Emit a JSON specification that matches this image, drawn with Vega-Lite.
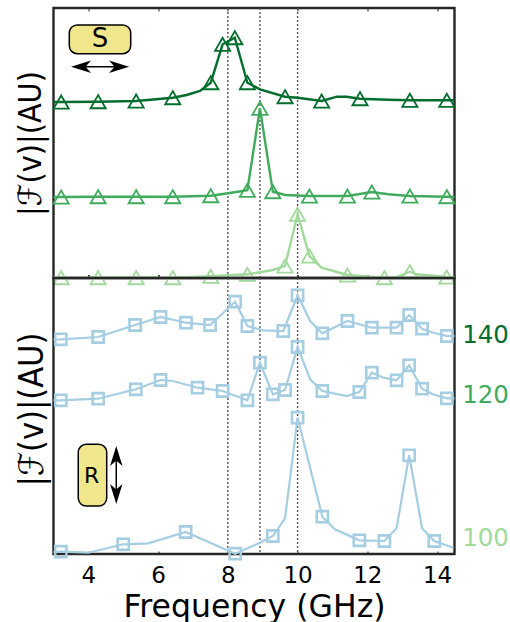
{"$schema":"https://vega.github.io/schema/vega-lite/v6.json","background":"white","padding":{"left":12.5,"top":6,"right":0,"bottom":2},"spacing":0,"bounds":"flush","config":{"font":"DejaVu Sans","view":{"stroke":"#262626","strokeWidth":2.4},"concat":{"spacing":0}},
"datasets":{"top":[
{"s":"140","f":3.0,"a":176,"m":false},{"s":"140","f":3.22,"a":176,"m":true},{"s":"140","f":4.28,"a":176.3,"m":true},{"s":"140","f":5.37,"a":177,"m":true},{"s":"140","f":6.42,"a":180.3,"m":true},{"s":"140","f":6.82,"a":183,"m":false},{"s":"140","f":7.2,"a":187,"m":false},{"s":"140","f":7.51,"a":195.3,"m":true},{"s":"140","f":7.85,"a":233.7,"m":true},{"s":"140","f":8.2,"a":240.3,"m":true},{"s":"140","f":8.56,"a":195.3,"m":true},{"s":"140","f":8.92,"a":188.7,"m":false},{"s":"140","f":9.64,"a":181.3,"m":true},{"s":"140","f":10,"a":180.3,"m":false},{"s":"140","f":10.69,"a":177,"m":true},{"s":"140","f":11.13,"a":181.3,"m":false},{"s":"140","f":11.4,"a":181.3,"m":false},{"s":"140","f":11.79,"a":179.3,"m":true},{"s":"140","f":12.6,"a":178.3,"m":false},{"s":"140","f":13.22,"a":177.7,"m":true},{"s":"140","f":14.28,"a":177.7,"m":true},{"s":"140","f":14.5,"a":177.7,"m":false},
{"s":"120","f":3.0,"a":81,"m":false},{"s":"120","f":3.22,"a":81,"m":true},{"s":"120","f":4.28,"a":81.3,"m":true},{"s":"120","f":5.37,"a":81.3,"m":true},{"s":"120","f":6.42,"a":81.3,"m":true},{"s":"120","f":7.51,"a":82.3,"m":true},{"s":"120","f":8.1,"a":85.3,"m":false},{"s":"120","f":8.56,"a":87.7,"m":true},{"s":"120","f":8.92,"a":169.7,"m":true},{"s":"120","f":9.29,"a":86.3,"m":true},{"s":"120","f":9.65,"a":83,"m":false},{"s":"120","f":10.34,"a":82,"m":true},{"s":"120","f":11.1,"a":82,"m":false},{"s":"120","f":11.43,"a":82,"m":true},{"s":"120","f":12.13,"a":86,"m":true},{"s":"120","f":12.6,"a":83.7,"m":false},{"s":"120","f":13.22,"a":82,"m":true},{"s":"120","f":14.28,"a":81.3,"m":true},{"s":"120","f":14.5,"a":81,"m":false},
{"s":"100","f":3.0,"a":0.5,"m":false},{"s":"100","f":3.22,"a":0.3,"m":true},{"s":"100","f":4.28,"a":0.3,"m":true},{"s":"100","f":5.37,"a":0.3,"m":true},{"s":"100","f":6.42,"a":0.3,"m":true},{"s":"100","f":7.51,"a":1.7,"m":true},{"s":"100","f":8.56,"a":3.7,"m":true},{"s":"100","f":9.3,"a":8,"m":false},{"s":"100","f":9.64,"a":12,"m":true},{"s":"100","f":10,"a":63.7,"m":true},{"s":"100","f":10.34,"a":22,"m":true},{"s":"100","f":10.69,"a":10.3,"m":false},{"s":"100","f":11.43,"a":3,"m":true},{"s":"100","f":12.49,"a":0.3,"m":true},{"s":"100","f":12.84,"a":1,"m":false},{"s":"100","f":13.22,"a":6.3,"m":true},{"s":"100","f":13.42,"a":3.7,"m":false},{"s":"100","f":14.28,"a":1,"m":true},{"s":"100","f":14.5,"a":0.5,"m":false}
],"bot":[
{"s":"140","f":3.0,"a":214.5,"m":false},{"s":"140","f":3.21,"a":214.7,"m":true},{"s":"140","f":4.28,"a":217,"m":true},{"s":"140","f":5.34,"a":229,"m":true},{"s":"140","f":6.07,"a":237,"m":true},{"s":"140","f":6.8,"a":231.3,"m":true},{"s":"140","f":7.49,"a":229,"m":true},{"s":"140","f":8.21,"a":252.3,"m":true},{"s":"140","f":8.56,"a":228,"m":true},{"s":"140","f":9.01,"a":223.7,"m":false},{"s":"140","f":9.59,"a":223,"m":true},{"s":"140","f":10,"a":258.7,"m":true},{"s":"140","f":10.36,"a":233,"m":false},{"s":"140","f":10.71,"a":220.7,"m":true},{"s":"140","f":11.43,"a":233,"m":true},{"s":"140","f":12.13,"a":226.3,"m":true},{"s":"140","f":12.84,"a":226.3,"m":true},{"s":"140","f":13.2,"a":239,"m":true},{"s":"140","f":13.57,"a":225.3,"m":true},{"s":"140","f":13.89,"a":221.3,"m":false},{"s":"140","f":14.28,"a":218,"m":true},{"s":"140","f":14.5,"a":218,"m":false},
{"s":"120","f":3.0,"a":153.5,"m":false},{"s":"120","f":3.21,"a":153.7,"m":true},{"s":"120","f":4.28,"a":155.3,"m":true},{"s":"120","f":5.36,"a":164.7,"m":true},{"s":"120","f":6.07,"a":174,"m":true},{"s":"120","f":6.43,"a":173,"m":false},{"s":"120","f":7.13,"a":166.3,"m":true},{"s":"120","f":7.85,"a":163,"m":true},{"s":"120","f":8.56,"a":153.7,"m":true},{"s":"120","f":8.92,"a":191.3,"m":true},{"s":"120","f":9.29,"a":159.7,"m":true},{"s":"120","f":9.64,"a":164,"m":true},{"s":"120","f":10,"a":207,"m":true},{"s":"120","f":10.36,"a":174.7,"m":false},{"s":"120","f":10.71,"a":163,"m":true},{"s":"120","f":11.41,"a":158,"m":false},{"s":"120","f":11.77,"a":162,"m":true},{"s":"120","f":12.13,"a":181.3,"m":true},{"s":"120","f":12.46,"a":176.3,"m":false},{"s":"120","f":12.84,"a":173.7,"m":true},{"s":"120","f":13.2,"a":188.7,"m":true},{"s":"120","f":13.57,"a":165.3,"m":true},{"s":"120","f":13.88,"a":159.7,"m":false},{"s":"120","f":14.28,"a":155.7,"m":true},{"s":"120","f":14.5,"a":155.7,"m":false},
{"s":"100","f":3.0,"a":2,"m":false},{"s":"100","f":3.21,"a":2.3,"m":true},{"s":"100","f":4.0,"a":1.3,"m":false},{"s":"100","f":5.0,"a":9.7,"m":true},{"s":"100","f":5.72,"a":10.7,"m":false},{"s":"100","f":6.79,"a":22,"m":true},{"s":"100","f":8.21,"a":0.3,"m":true},{"s":"100","f":8.92,"a":11.3,"m":false},{"s":"100","f":9.29,"a":18,"m":true},{"s":"100","f":9.64,"a":35.7,"m":false},{"s":"100","f":10,"a":136.3,"m":true},{"s":"100","f":10.71,"a":37.3,"m":true},{"s":"100","f":11.07,"a":24.7,"m":false},{"s":"100","f":11.77,"a":13.7,"m":true},{"s":"100","f":12.49,"a":13,"m":true},{"s":"100","f":12.84,"a":25.7,"m":false},{"s":"100","f":13.2,"a":98.7,"m":true},{"s":"100","f":13.57,"a":25.7,"m":false},{"s":"100","f":13.92,"a":13,"m":true},{"s":"100","f":14.47,"a":6.3,"m":false}
],"peaks":[{"f":8},{"f":8.92},{"f":10}]},
"vconcat":[
{"width":401,"height":270,
"encoding":{"x":{"field":"f","type":"quantitative","scale":{"domain":[3,14.5],"nice":false,"zero":false},"axis":{"orient":"bottom","values":[4,6,8,10,12,14],"labels":false,"title":null,"grid":false,"domain":false,"tickSize":-3,"tickColor":"#262626"}},"y":{"field":"a","type":"quantitative","scale":{"domain":[0,270],"nice":false},"axis":{"title":"|ℱ(v)|(AU)","titleFont":"DejaVu Sans Condensed","titleFontSize":32,"titleFontWeight":"normal","titleColor":"#000000","domain":false,"ticks":false,"labels":false,"grid":false,"titlePadding":6}}},
"layer":[
{"data":{"name":"peaks"},"mark":{"type":"rule","color":"#555555","strokeWidth":1.4,"strokeDash":[2,2]},"encoding":{"y":null,"x":{"field":"f","type":"quantitative","axis":{"orient":"top","values":[4,6,8,10,12,14],"labels":false,"title":null,"grid":false,"domain":false,"tickSize":-3,"tickColor":"#262626"}}}},
{"data":{"name":"top"},"mark":{"type":"line","strokeWidth":2.4,"clip":false},"encoding":{"color":{"field":"s","type":"nominal","scale":{"domain":["140","120","100"],"range":["#006d2c","#41ab5d","#a1d99b"]},"legend":null},"detail":{"field":"s"}}},
{"data":{"name":"top"},"transform":[{"filter":"datum.m"}],"mark":{"type":"point","shape":"triangle-up","filled":false,"size":230,"strokeWidth":1.8,"opacity":1,"clip":false},"encoding":{"color":{"field":"s","type":"nominal","legend":null}}},
{"data":{"values":[{"f":3.453,"f2":5.214,"a":253,"a2":224.3}]},"mark":{"type":"rect","fill":"#f0e68c","stroke":"#000000","strokeWidth":1.5,"cornerRadius":8},"encoding":{"x2":{"field":"f2"},"y2":{"field":"a2"}}},
{"data":{"values":[{"f":4.33,"a":239,"t":"S"}]},"mark":{"type":"text","fontSize":26,"color":"#000000","baseline":"middle"},"encoding":{"text":{"field":"t"}}},
{"data":{"values":[{"f":3.6,"f2":5.05,"a":211.3}]},"mark":{"type":"rule","color":"#000000","strokeWidth":1.5},"encoding":{"x2":{"field":"f2"}}},
{"data":{"values":[{"f":3.79,"a":211.3}]},"mark":{"type":"point","shape":"M-1,0 L1,-0.62 L0.45,0 L1,0.62 Z","filled":true,"color":"#000000","size":400,"opacity":1}},
{"data":{"values":[{"f":4.88,"a":211.3}]},"mark":{"type":"point","shape":"M1,0 L-1,-0.62 L-0.45,0 L-1,0.62 Z","filled":true,"color":"#000000","size":400,"opacity":1}}
]},
{"width":401,"height":276,
"encoding":{"x":{"field":"f","type":"quantitative","scale":{"domain":[3,14.5],"nice":false,"zero":false},"axis":{"orient":"bottom","values":[4,6,8,10,12,14],"format":"d","title":"Frequency (GHz)","titleFontSize":31.5,"titleFontWeight":"normal","titleColor":"#000000","titlePadding":4,"labelFontSize":23,"labelColor":"#000000","labelPadding":13,"grid":false,"domain":false,"tickSize":-3,"tickColor":"#262626"}},"y":{"field":"a","type":"quantitative","scale":{"domain":[0,276],"nice":false},"axis":{"title":"|ℱ(v)|(AU)","titleFont":"DejaVu Sans Condensed","titleFontSize":34,"titleFontWeight":"normal","titleColor":"#000000","domain":false,"ticks":false,"labels":false,"grid":false,"titlePadding":4,"titleY":131}}},
"layer":[
{"data":{"name":"peaks"},"mark":{"type":"rule","color":"#555555","strokeWidth":1.4,"strokeDash":[2,2]},"encoding":{"y":null}},
{"data":{"name":"bot"},"mark":{"type":"line","strokeWidth":2.2,"color":"#a6cee3","clip":false},"encoding":{"detail":{"field":"s"}}},
{"data":{"name":"bot"},"transform":[{"filter":"datum.m"}],"mark":{"type":"point","shape":"square","filled":false,"size":125,"strokeWidth":2.6,"color":"#a6cee3","opacity":1,"clip":false},"encoding":{"detail":{"field":"s"}}},
{"data":{"values":[{"f":14.72,"a":218,"t":"140"},{"f":14.72,"a":158,"t":"120"},{"f":14.72,"a":15,"t":"100"}]},"mark":{"type":"text","fontSize":24.5,"align":"left","baseline":"middle"},"encoding":{"text":{"field":"t"},"color":{"field":"t","type":"nominal","scale":{"domain":["140","120","100"],"range":["#006d2c","#41ab5d","#a1d99b"]},"legend":null}}},
{"data":{"values":[{"f":3.71,"f2":4.526,"a":109.7,"a2":48}]},"mark":{"type":"rect","fill":"#f0e68c","stroke":"#000000","strokeWidth":1.5,"cornerRadius":8},"encoding":{"x2":{"field":"f2"},"y2":{"field":"a2"}}},
{"data":{"values":[{"f":4.095,"a":78,"t":"R"}]},"mark":{"type":"text","fontSize":22,"color":"#000000","baseline":"middle"},"encoding":{"text":{"field":"t"}}},
{"data":{"values":[{"f":4.8,"a":103,"a2":55}]},"mark":{"type":"rule","color":"#000000","strokeWidth":1.5},"encoding":{"y2":{"field":"a2"}}},
{"data":{"values":[{"f":4.8,"a":98}]},"mark":{"type":"point","shape":"M0,-1 L0.62,1 L0,0.45 L-0.62,1 Z","filled":true,"color":"#000000","size":400,"opacity":1}},
{"data":{"values":[{"f":4.8,"a":60}]},"mark":{"type":"point","shape":"M0,1 L0.62,-1 L0,-0.45 L-0.62,-1 Z","filled":true,"color":"#000000","size":400,"opacity":1}}
]}
]}
